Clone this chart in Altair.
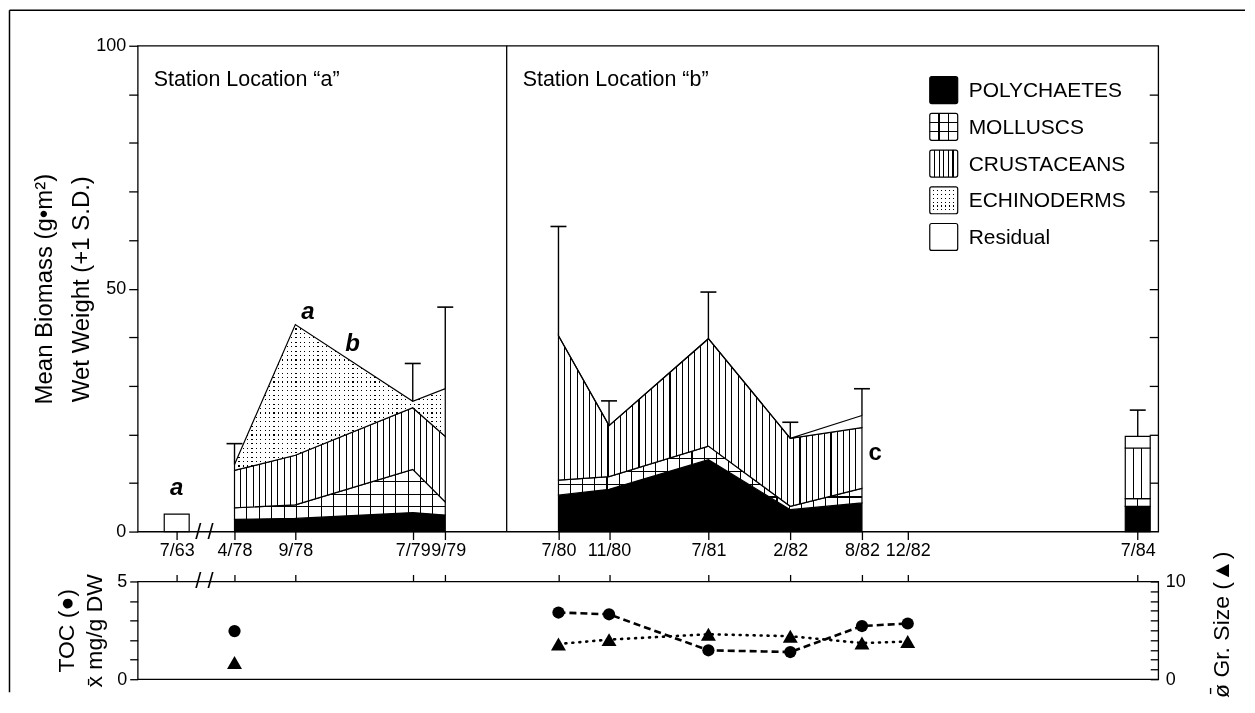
import json
import altair as alt
import numpy as np
import pandas as pd

# ---------------------------------------------------------------- data
sample_dates = ["7/63", "4/78", "9/78", "7/79", "9/79", "7/80", "11/80",
                "7/81", "2/82", "8/82", "12/82", "7/84"]
# where each sampling date sits on the drawn (broken) time axis, months after 4/78
axis_pos = [-4.8, 0.0, 5.05, 14.8, 17.5, 26.9, 31.1, 39.35, 46.15, 52.1, 55.9, 75.0]
break_pos = -2.5          # axis break between 7/63 and 4/78
station_divider = 22.6    # boundary between station "a" and station "b"

band_names = ["POLYCHAETES", "MOLLUSCS", "CRUSTACEANS", "ECHINODERMS", "Residual"]

# Station "a"
a_dates = ["4/78", "9/78", "7/79", "9/79"]
a_poly = [2.5, 2.7, 3.9, 3.4]
a_moll = [2.4, 2.8, 8.9, 2.7]
a_crus = [7.7, 10.2, 12.7, 13.5]
a_echi = [1.2, 26.9, 1.3, 9.8]
a_resid = [0.0, 0.0, 0.0, 0.0]
a_sd_top = [18.1, None, 34.6, 46.2]

# Station "b"
b_dates = ["7/80", "11/80", "7/81", "2/82", "8/82"]
b_poly = [7.5, 8.7, 14.8, 4.5, 5.9]
b_moll = [3.1, 2.6, 2.8, 0.7, 3.0]
b_crus = [29.7, 10.5, 22.1, 14.0, 12.5]
b_echi = [0.0, 0.0, 0.0, 0.0, 0.0]
b_resid = [0.0, 0.0, 0.0, 0.0, 2.5]
b_sd_top = [62.8, 26.9, 49.3, 22.5, 29.4]

# single surveys drawn as bars
s_dates = ["7/63", "7/84"]
s_poly = [0.0, 5.2]
s_moll = [0.0, 1.6]
s_crus = [0.0, 10.4]
s_echi = [0.0, 0.0]
s_resid = [3.6, 2.4]
s_sd_top = [None, 25.0]

# sediment panel
sed_dates = ["4/78", "7/80", "11/80", "7/81", "2/82", "8/82", "12/82"]
toc = [2.46, 3.41, 3.32, 1.48, 1.39, 2.72, 2.85]
grain = [1.7, 3.6, 4.05, 4.6, 4.4, 3.7, 3.85]

# significance letters
ann_text = ["a", "a", "b", "c"]
ann_pos = [-4.8, 6.1, 9.8, 53.2]
ann_y = [7.6, 43.7, 37.2, 14.8]
ann_italic = [True, True, True, False]

# ---------------------------------------------------------------- layout
W, H1, H2 = 1023, 487, 98
X_DOMAIN = [-8.04, 76.7]
PX_X = W / (X_DOMAIN[1] - X_DOMAIN[0])
PX_Y = H1 / 100.0
FONT = "Liberation Sans"
BG, FG, CLEAR = "#ffffff", "#000000", "rgba(0,0,0,0)"

pos_of = dict(zip(sample_dates, axis_pos))
xs = alt.Scale(domain=X_DOMAIN, nice=False, zero=False, padding=0)
ys = alt.Scale(domain=[0, 100], nice=False, zero=False, padding=0)

label_expr = "%s[indexof(%s, datum.value)]" % (json.dumps(sample_dates), json.dumps(axis_pos))
x_axis = alt.Axis(values=axis_pos, labelExpr=label_expr, title=None, grid=False, domain=False,
                  tickSize=8, labelPadding=2, labelFontSize=18, labelOverlap=False,
                  labelFlush=False,
                  labelOffset={"condition": {"test": "datum.value == 17.5", "value": 3},
                               "value": 0})
X = alt.X("pos:Q", scale=xs, axis=x_axis)


def stack_table(dates, comps):
    rows = []
    cum = np.zeros(len(dates))
    for name, vals in zip(band_names, comps):
        v = np.asarray(vals, dtype=float)
        for i, d in enumerate(dates):
            rows.append({"date": d, "pos": pos_of[d], "band": name,
                         "lo": float(cum[i]), "hi": float(cum[i] + v[i])})
        cum = cum + v
    return pd.DataFrame(rows), cum


def stripes(n, line_px, span_px, vertical=True, bg=BG, fg=FG):
    frac = line_px / max(span_px, 1.0)
    stops = [{"offset": 0.0, "color": bg}]
    for k in range(1, int(n)):
        c = k / n
        a = round(max(0.0, c - frac / 2), 5)
        b = round(min(1.0, c + frac / 2), 5)
        stops += [{"offset": a, "color": bg}, {"offset": a, "color": fg},
                  {"offset": b, "color": fg}, {"offset": b, "color": bg}]
    stops.append({"offset": 1.0, "color": bg})
    g = {"gradient": "linear", "stops": stops, "x1": 0, "y1": 0}
    if vertical:
        g.update(x2=1, y2=0)
    else:
        g.update(x2=0, y2=1)
    return g


def band_layers(df, band, bar_width=None):
    d = df[df.band == band]
    if bar_width is not None:
        d = d[d.hi > d.lo]
    if len(d) == 0 or (d.hi - d.lo).max() <= 0:
        return []
    wpx = bar_width if bar_width is not None else (d.pos.max() - d.pos.min()) * PX_X
    hpx = (d.hi.max() - d.lo.min()) * PX_Y

    def mk(**kw):
        kw.setdefault("opacity", 1)
        if bar_width is None:
            m = alt.Chart(d).mark_area(interpolate="linear", **kw)
        else:
            m = alt.Chart(d).mark_bar(width=bar_width, **kw)
        return m.encode(x=X, y=alt.Y("hi:Q", scale=ys, axis=None), y2="lo:Q")

    out = []
    if band == "POLYCHAETES":
        out.append(mk(fill="black", stroke="black", strokeWidth=1.2))
    elif band == "MOLLUSCS":
        out.append(mk(fill=stripes(max(1, round(wpx / 12.4)), 1.1, wpx, True)))
        out.append(mk(fill=stripes(max(1, round(hpx / 12.4)), 1.1, hpx, False, bg=CLEAR),
                      stroke="black", strokeWidth=1.2))
    elif band == "CRUSTACEANS":
        per = 6.2 if bar_width is None else 8.0
        out.append(mk(fill=stripes(max(1, round(wpx / per)), 1.1, wpx, True),
                      stroke="black", strokeWidth=1.2))
    elif band == "ECHINODERMS":
        out.append(mk(fill=stripes(max(1, round(wpx / 4.4)), 1.2, wpx, True)))
        out.append(mk(fill=stripes(max(1, round(hpx / 4.4)), 1.2, hpx, False), blend="lighten"))
        out.append(mk(fill="white", fillOpacity=0, stroke="black", strokeWidth=1.2))
    else:
        out.append(mk(fill="white", stroke="black", strokeWidth=1.2))
    return out


a_df, a_tot = stack_table(a_dates, [a_poly, a_moll, a_crus, a_echi, a_resid])
b_df, b_tot = stack_table(b_dates, [b_poly, b_moll, b_crus, b_echi, b_resid])
s_df, s_tot = stack_table(s_dates, [s_poly, s_moll, s_crus, s_echi, s_resid])

layers = []

# axis carrier layers
ax_df = pd.DataFrame({"pos": axis_pos, "v": [0.0] * len(axis_pos)})
y_left = alt.Axis(values=list(range(0, 101, 10)),
                  labelExpr="datum.value % 50 == 0 ? datum.label : ''",
                  title=["Mean Biomass (g\u2022m\u00b2)", "Wet Weight (+1 S.D.)"],
                  titleFontSize=24, titleAngle=270, titleAlign="center",
                  titleBaseline="alphabetic", titleX=-86, titleY=H1 / 2, titleLineHeight=37,
                  tickSize=9, labelPadding=3, labelFontSize=18, domain=False, grid=False,
                  labelFlush=False)
y_right = alt.Axis(orient="right", values=list(range(10, 100, 10)), labels=False, title=None,
                   tickSize=9, offset=-9, domain=False, grid=False)

layers.append(alt.Chart(ax_df).mark_point(opacity=0).encode(
    x=X, y=alt.Y("v:Q", scale=ys, axis=y_left)))
layers.append(alt.Chart(ax_df).mark_point(opacity=0).encode(
    x=X, y=alt.Y("v:Q", scale=ys, axis=y_right)))

# stacked bands
for df in (a_df, b_df):
    for band in band_names:
        layers += band_layers(df, band)
for band in band_names:
    layers += band_layers(s_df, band, bar_width=25)

# error bars (+1 S.D.)
err_rows = []
for dates, tot, sds in [(a_dates, a_tot, a_sd_top), (b_dates, b_tot, b_sd_top),
                        (s_dates, s_tot, s_sd_top)]:
    for d, t, s in zip(dates, tot, sds):
        if s is not None:
            err_rows.append({"pos": pos_of[d], "lo": float(t), "hi": float(s)})
err_df = pd.DataFrame(err_rows)
layers.append(alt.Chart(err_df).mark_rule(color="black", strokeWidth=1.4).encode(
    x=X, y=alt.Y("hi:Q", scale=ys, axis=None), y2="lo:Q"))
layers.append(alt.Chart(err_df).mark_tick(orient="horizontal", size=16, thickness=1.6,
                                          color="black", opacity=1).encode(
    x=X, y=alt.Y("hi:Q", scale=ys, axis=None)))

# station divider
div_df = pd.DataFrame({"pos": [station_divider], "y0": [0.0], "y1": [100.0]})
layers.append(alt.Chart(div_df).mark_rule(color="black", strokeWidth=1.3).encode(
    x=X, y=alt.Y("y1:Q", scale=ys, axis=None), y2="y0:Q"))

# station labels
st_df = pd.DataFrame({"pos": [X_DOMAIN[0], station_divider], "y": [100.0, 100.0],
                      "t": ["Station Location \u201ca\u201d", "Station Location \u201cb\u201d"]})
layers.append(alt.Chart(st_df).mark_text(align="left", baseline="alphabetic", dx=16, dy=40,
                                         fontSize=21.5, font=FONT, color="black").encode(
    x=X, y=alt.Y("y:Q", scale=ys, axis=None), text="t:N"))

# significance letters
ann_df = pd.DataFrame({"pos": ann_pos, "y": ann_y, "t": ann_text, "it": ann_italic})
for it in (True, False):
    layers.append(alt.Chart(ann_df[ann_df.it == it]).mark_text(
        align="center", baseline="alphabetic", fontSize=24, fontWeight="bold",
        fontStyle="italic" if it else "normal", font=FONT, color="black").encode(
        x=X, y=alt.Y("y:Q", scale=ys, axis=None), text="t:N"))

# axis break marks
brk_df = pd.DataFrame({"pos": [break_pos], "y": [0.0]})
layers.append(alt.Chart(brk_df).mark_text(text="/ /", fontSize=22, font=FONT, color="black",
                                          baseline="middle", align="center").encode(
    x=X, y=alt.Y("y:Q", scale=ys, axis=None)))

# legend (custom, drawn inside the plot)
LEG_X, LEG_Y0, LEG_DY, SW, SH = 794, 44.5, 36.8, 28, 27
one = pd.DataFrame({"k": [0]})


def swatch(i, **kw):
    yc = LEG_Y0 + i * LEG_DY
    kw.setdefault("opacity", 1)
    return alt.Chart(one).mark_rect(cornerRadius=2, **kw).encode(
        x=alt.value(LEG_X), x2=alt.value(LEG_X + SW),
        y=alt.value(yc - SH / 2), y2=alt.value(yc + SH / 2))


layers.append(swatch(0, fill="black", stroke="black", strokeWidth=1.2))
layers.append(swatch(1, fill=stripes(3, 1.2, SW, True)))
layers.append(swatch(1, fill=stripes(3, 1.2, SH, False, bg=CLEAR), stroke="black", strokeWidth=1.2))
layers.append(swatch(2, fill=stripes(6, 1.1, SW, True), stroke="black", strokeWidth=1.2))
layers.append(swatch(3, fill=stripes(7, 1.2, SW, True)))
layers.append(swatch(3, fill=stripes(7, 1.2, SH, False), blend="lighten"))
layers.append(swatch(3, fill="white", fillOpacity=0, stroke="black", strokeWidth=1.2))
layers.append(swatch(4, fill="white", stroke="black", strokeWidth=1.2))
for i, name in enumerate(band_names):
    layers.append(alt.Chart(one).mark_text(text=name, align="left", baseline="middle",
                                           fontSize=21, font=FONT, color="black").encode(
        x=alt.value(LEG_X + SW + 11), y=alt.value(LEG_Y0 + i * LEG_DY + 1)))

# figure frame
layers.append(alt.Chart(one).mark_rule(color="black", strokeWidth=1.5).encode(
    x=alt.value(-128.5), x2=alt.value(1110), y=alt.value(-35.5)))
layers.append(alt.Chart(one).mark_rule(color="black", strokeWidth=1.5).encode(
    x=alt.value(-128.5), y=alt.value(-35.5), y2=alt.value(648)))

main = alt.layer(*layers).resolve_axis(y="independent").properties(width=W, height=H1)

# ---------------------------------------------------------------- sediment panel
sed_df = pd.DataFrame({"pos": [pos_of[d] for d in sed_dates], "toc": toc, "grain": grain})
line_df = sed_df[sed_df.pos > station_divider]
toc_s = alt.Scale(domain=[0, 5], nice=False, zero=False, padding=0)
gr_s = alt.Scale(domain=[0, 10], nice=False, zero=False, padding=0)

x_top = alt.Axis(orient="top", values=axis_pos, labels=False, title=None, tickSize=7,
                 domain=False, grid=False)
XT = alt.X("pos:Q", scale=xs, axis=x_top)
toc_axis = alt.Axis(values=[0, 1, 2, 3, 4, 5],
                    labelExpr="datum.value == 0 || datum.value == 5 ? datum.label : ''",
                    title=["TOC (\u25cf)", "x\u0304 mg/g DW"], titleFontSize=23, titleAngle=270,
                    titleAlign="center", titleBaseline="alphabetic", titleX=-64, titleY=H2 / 2,
                    titleLineHeight=28, tickSize=8, labelPadding=3, labelFontSize=18,
                    domain=False, grid=False, labelFlush=False)
gr_axis = alt.Axis(orient="right", values=list(range(0, 11)),
                   labelExpr="datum.value == 0 || datum.value == 10 ? datum.label : ''",
                   title="\u00f8\u0304 Gr. Size (\u25b2)", titleFontSize=23, titleAngle=270,
                   titleAlign="center", titleBaseline="alphabetic", titleX=78, titleY=43,
                   tickSize=8, offset=-8, labelPadding=7, labelFontSize=18,
                   domain=False, grid=False, labelFlush=False)

low_layers = [
    alt.Chart(line_df).mark_line(color="black", strokeWidth=2.6, strokeDash=[7, 4]).encode(
        x=XT, y=alt.Y("toc:Q", scale=toc_s, axis=None)),
    alt.Chart(line_df).mark_line(color="black", strokeWidth=2.6, strokeDash=[1, 6],
                                 strokeCap="round").encode(
        x=XT, y=alt.Y("grain:Q", scale=gr_s, axis=None)),
    alt.Chart(sed_df).mark_point(shape="circle", filled=True, size=150, color="black",
                                 opacity=1).encode(
        x=XT, y=alt.Y("toc:Q", scale=toc_s, axis=toc_axis)),
    alt.Chart(sed_df).mark_point(shape="triangle-up", filled=True, size=225, color="black",
                                 opacity=1).encode(
        x=XT, y=alt.Y("grain:Q", scale=gr_s, axis=gr_axis)),
    alt.Chart(pd.DataFrame({"pos": [break_pos], "y": [5.0]})).mark_text(
        text="/ /", fontSize=22, font=FONT, color="black", baseline="middle",
        align="center").encode(
        x=XT, y=alt.Y("y:Q", scale=toc_s, axis=None)),
]
lower = alt.layer(*low_layers).resolve_scale(y="independent").properties(width=W, height=H2)

chart = (
    alt.vconcat(main, lower, spacing=50, bounds="flush")
    .properties(padding=0)
    .configure_view(stroke="black", strokeWidth=1.3)
    .configure_axis(labelFont=FONT, titleFont=FONT, labelColor="black", titleColor="black",
                    tickColor="black", tickWidth=1.3, titleFontWeight="normal", grid=False)
    .configure_text(font=FONT)
)

chart.save("out.html", embed_options={"renderer": "svg", "actions": False})
